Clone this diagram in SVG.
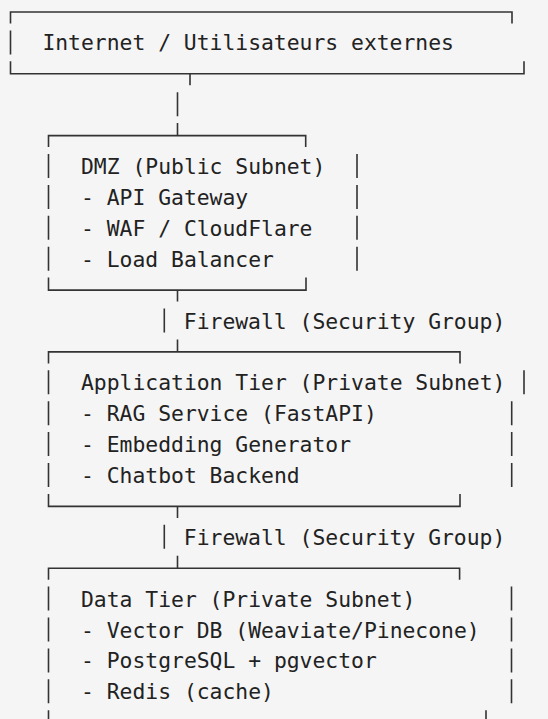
<svg xmlns="http://www.w3.org/2000/svg" width="548" height="719" viewBox="0 0 548 719">
<style>
.bg{fill:#f5f5f5}
.ln{fill:none;stroke:#333;stroke-width:1.6;stroke-linecap:butt}
.t{font-family:"DejaVu Sans Mono","Liberation Mono",monospace;font-size:21.36px;fill:#222;white-space:pre}
</style>
<rect class="bg" x="0" y="0" width="548" height="719"/>
<g id="internet">
<path class="ln" d="M10.5,23.5 V12 H512 V23.5 M10.5,30.4 V54.4 M10.5,61.3 V73.8 H524 V61.3"/>
<text class="t" x="42.4" y="50.4">Internet / Utilisateurs externes</text>
</g>
<g id="dmz">
<path class="ln" d="M48.5,147.1 V135.6 H305.7 V147.1 M48.5,154 V178 M48.5,184.9 V208.9 M48.5,215.8 V239.8 M48.5,246.7 V270.7 M357,154 V178 M357,184.9 V208.9 M357,215.8 V239.8 M357,246.7 V270.7 M48.5,277.6 V290.1 H306 V277.6"/>
<text class="t" x="81" y="174">DMZ (Public Subnet)</text>
<text class="t" x="81" y="204.9">- API Gateway</text>
<text class="t" x="81" y="235.8">- WAF / CloudFlare</text>
<text class="t" x="81" y="266.7">- Load Balancer</text>
</g>
<g id="app-tier">
<path class="ln" d="M48.5,363.4 V351.9 H460 V363.4 M48.5,370.3 V394.3 M48.5,401.2 V425.2 M48.5,432.1 V456.1 M48.5,463 V487 M524,370.3 V394.3 M511.7,401.2 V425.2 M511.7,432.1 V456.1 M511.7,463 V487 M48.5,493.9 V506.4 H460 V493.9"/>
<text class="t" x="81" y="390.3">Application Tier (Private Subnet)</text>
<text class="t" x="81" y="421.2">- RAG Service (FastAPI)</text>
<text class="t" x="81" y="452.1">- Embedding Generator</text>
<text class="t" x="81" y="483">- Chatbot Backend</text>
</g>
<g id="data-tier">
<path class="ln" d="M48.5,579.7 V568.2 H459.6 V579.7 M48.5,586.6 V610.6 M48.5,617.5 V641.5 M48.5,648.4 V672.4 M48.5,679.3 V703.3 M511.5,586.6 V610.6 M511.5,617.5 V641.5 M511.5,648.4 V672.4 M511.5,679.3 V703.3 M48.5,710.2 V722.7 H486 V710.2"/>
<text class="t" x="81" y="606.6">Data Tier (Private Subnet)</text>
<text class="t" x="81" y="637.5">- Vector DB (Weaviate/Pinecone)</text>
<text class="t" x="81" y="668.4">- PostgreSQL + pgvector</text>
<text class="t" x="81" y="699.3">- Redis (cache)</text>
</g>
<g id="connectors">
<path class="ln" d="M190,73.8 V85.3 M177.5,92.2 V116.2 M177.5,123.1 V135.6"/>
<path class="ln" d="M177.5,290.1 V301.6 M164.3,308.5 V332.5 M177.5,339.4 V351.9"/>
<text class="t" x="183.8" y="328.5">Firewall (Security Group)</text>
<path class="ln" d="M177.5,506.4 V517.9 M164.3,524.8 V548.8 M177.5,555.7 V568.2"/>
<text class="t" x="183.8" y="544.8">Firewall (Security Group)</text>
</g>
</svg>
